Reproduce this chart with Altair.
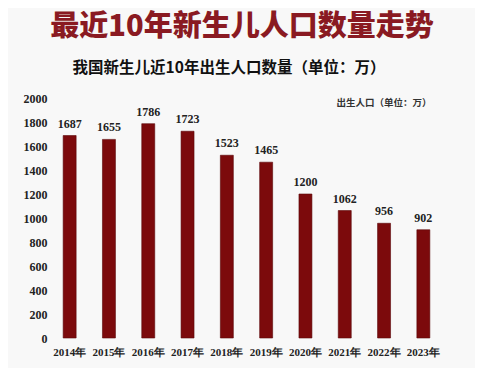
import altair as alt
import pandas as pd

years = ["2014年", "2015年", "2016年", "2017年", "2018年", "2019年", "2020年", "2021年", "2022年", "2023年"]
births = [1687, 1655, 1786, 1723, 1523, 1465, 1200, 1062, 956, 902]
y_ticks = [0, 200, 400, 600, 800, 1000, 1200, 1400, 1600, 1800, 2000]

title_text = "最近10年新生儿人口数量走势"
subtitle_text = "我国新生儿近10年出生人口数量（单位：万）"
legend_text = "出生人口（单位：万）"

df = pd.DataFrame({"year": years, "births": births})
one = pd.DataFrame({"t": [title_text], "s": [subtitle_text], "l": [legend_text]})

CJK = "Noto Sans CJK SC"
NUM = "Liberation Serif"

x_enc = alt.X("year:N", sort=years, title=None,
              scale=alt.Scale(paddingInner=0.67, paddingOuter=0.335),
              axis=alt.Axis(labelAngle=0, ticks=False, domain=False, labelPadding=8,
                            labelFont=NUM, labelFontSize=11, labelFontWeight="bold",
                            labelColor="#222222"))
y_enc = alt.Y("births:Q", title=None,
              scale=alt.Scale(domain=[0, 2000], nice=False),
              axis=alt.Axis(values=y_ticks, tickCount=11, format="d", labelOverlap=False,
                            ticks=False, domain=False, grid=False,
                            labelPadding=3, labelFont=NUM, labelFontSize=12,
                            labelFontWeight="bold", labelColor="#222222"))

base = alt.Chart(df)
bars = base.mark_bar(color="#7c0a0c", stroke="#5a0608", strokeWidth=0.6).encode(x=x_enc, y=y_enc)
labels = base.mark_text(baseline="bottom", dy=-5, font=NUM, fontSize=12,
                        fontWeight="bold", color="#222222").encode(
    x=x_enc, y=y_enc, text="births:Q")

ann = alt.Chart(one)
title = ann.mark_text(font=CJK, fontSize=29, fontWeight=900, color="#8a1a22",
                      align="center", baseline="alphabetic").encode(
    x=alt.value(192), y=alt.value(-62), text="t:N")
subtitle = ann.mark_text(font=CJK, fontSize=15.5, fontWeight="bold", color="#111111",
                         align="center", baseline="middle").encode(
    x=alt.value(179), y=alt.value(-30), text="s:N")
legend = ann.mark_text(font=CJK, fontSize=9.5, fontWeight="bold", color="#333333",
                       align="center", baseline="middle").encode(
    x=alt.value(334), y=alt.value(5), text="l:N")

chart = alt.layer(bars, labels, title, subtitle, legend).properties(
    width=393, height=240,
    autosize=alt.AutoSizeParams(type="none"),
    padding={"left": 42, "top": 90, "right": 32, "bottom": 30},
    background="#f8f8f8",
).configure_view(stroke=None)

chart.save("out.html", embed_options={"renderer": "svg", "actions": False})
